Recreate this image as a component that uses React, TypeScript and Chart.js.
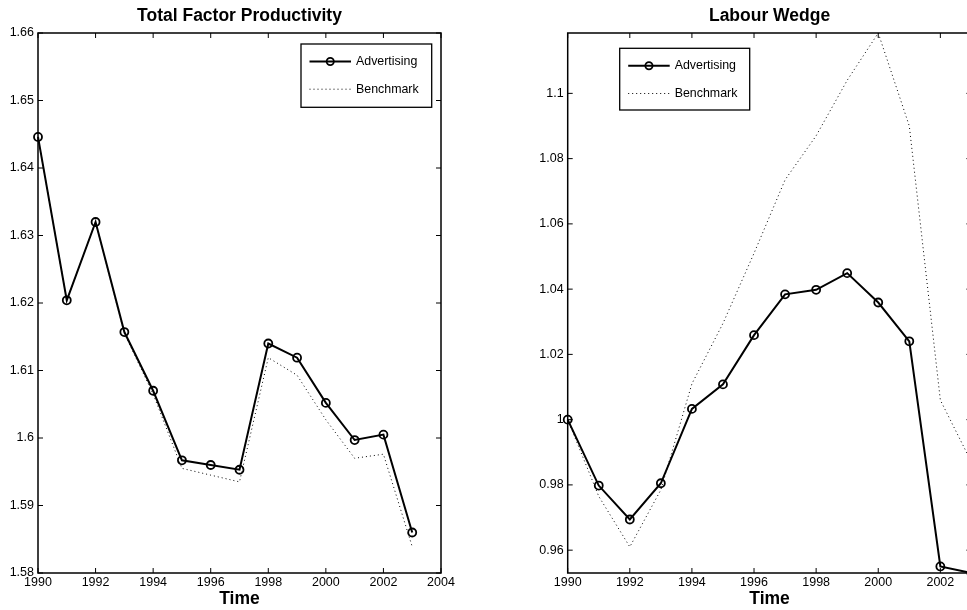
import React, { useEffect, useRef } from 'react';
import { Chart, registerables } from 'chart.js';

Chart.register(...registerables);

// ---------- data ----------
const years = [1990, 1991, 1992, 1993, 1994, 1995, 1996, 1997, 1998, 1999, 2000, 2001, 2002, 2003];

const tfpAdvertising = [1.6446, 1.6204, 1.632, 1.6157, 1.607, 1.5967, 1.596, 1.5953, 1.614, 1.6119, 1.6052, 1.5997, 1.6005, 1.586];
const tfpBenchmark = [1.6446, 1.6204, 1.632, 1.6155, 1.6065, 1.5955, 1.5945, 1.5935, 1.6119, 1.6093, 1.6027, 1.597, 1.5976, 1.5839];

const labourAdvertising = [1.0, 0.9798, 0.9694, 0.9805, 1.0033, 1.0108, 1.0259, 1.0384, 1.0398, 1.0449, 1.0359, 1.024, 0.955, 0.953];
const labourBenchmark = [1.0, 0.9765, 0.961, 0.9785, 1.011, 1.0295, 1.051, 1.0735, 1.087, 1.104, 1.1185, 1.09, 1.006, 0.987];

const tfpXTicks = [1990, 1992, 1994, 1996, 1998, 2000, 2002, 2004];
const tfpXLabels = ['1990', '1992', '1994', '1996', '1998', '2000', '2002', '2004'];
const tfpYTicks = [1.58, 1.59, 1.6, 1.61, 1.62, 1.63, 1.64, 1.65, 1.66];
const tfpYLabels = ['1.58', '1.59', '1.6', '1.61', '1.62', '1.63', '1.64', '1.65', '1.66'];

const labourXTicks = [1990, 1992, 1994, 1996, 1998, 2000, 2002];
const labourXLabels = ['1990', '1992', '1994', '1996', '1998', '2000', '2002'];
const labourYTicks = [0.96, 0.98, 1.0, 1.02, 1.04, 1.06, 1.08, 1.1];
const labourYLabels = ['0.96', '0.98', '1', '1.02', '1.04', '1.06', '1.08', '1.1'];

const seriesNames = ['Advertising', 'Benchmark'];

// ---------- styling ----------
const FONT = "'Liberation Sans', Arial, Helvetica, sans-serif";
Chart.defaults.font.family = FONT;
Chart.defaults.color = '#000';

type Spec = {
  title: string;
  adv: number[];
  bench: number[];
  xMin: number;
  xMax: number;
  yMin: number;
  yMax: number;
  xTicks: number[];
  xLabels: string[];
  yTicks: number[];
  yLabels: string[];
  yWidth: number;
  padRight: number;
  legendPos: (ca: { left: number; right: number; top: number; bottom: number }) => { x: number; y: number; w: number; h: number };
};

function makePlugin(spec: Spec) {
  return {
    id: 'matlabFrame',
    afterDatasetsDraw(chart: any) {
      const { ctx, chartArea } = chart;
      const { left, right, top, bottom } = chartArea;
      const xs = chart.scales.x;
      const ys = chart.scales.y;
      ctx.save();
      ctx.strokeStyle = '#000';
      ctx.lineWidth = 1;
      ctx.setLineDash([]);
      const seg = (x1: number, y1: number, x2: number, y2: number) => {
        ctx.beginPath();
        ctx.moveTo(x1, y1);
        ctx.lineTo(x2, y2);
        ctx.stroke();
      };
      spec.xTicks.forEach((v) => {
        const px = xs.getPixelForValue(v);
        seg(px, bottom, px, bottom - 5);
        seg(px, top, px, top + 5);
      });
      spec.yTicks.forEach((v) => {
        const py = ys.getPixelForValue(v);
        seg(left, py, left + 5, py);
        seg(right, py, right - 5, py);
      });
      ctx.lineWidth = 1.5;
      ctx.strokeRect(left, top, right - left, bottom - top);
      ctx.restore();
    },
    afterDraw(chart: any) {
      const { ctx, chartArea } = chart;
      const box = spec.legendPos(chartArea);
      ctx.save();
      ctx.fillStyle = '#fff';
      ctx.fillRect(box.x, box.y, box.w, box.h);
      ctx.strokeStyle = '#000';
      ctx.lineWidth = 1.3;
      ctx.strokeRect(box.x, box.y, box.w, box.h);

      const x1 = box.x + 8.5;
      const x2 = box.x + 50;
      const r1 = box.y + 17.5;
      const r2 = box.y + 45.2;
      // Advertising
      ctx.lineWidth = 2;
      ctx.setLineDash([]);
      ctx.beginPath();
      ctx.moveTo(x1, r1);
      ctx.lineTo(x2, r1);
      ctx.stroke();
      ctx.lineWidth = 1.8;
      ctx.beginPath();
      ctx.arc((x1 + x2) / 2, r1, 3.6, 0, Math.PI * 2);
      ctx.stroke();
      // Benchmark
      ctx.lineWidth = 1;
      ctx.setLineDash([1, 3]);
      ctx.beginPath();
      ctx.moveTo(x1, r2);
      ctx.lineTo(x2, r2);
      ctx.stroke();
      ctx.setLineDash([]);

      ctx.fillStyle = '#000';
      ctx.font = `12.4px ${FONT}`;
      ctx.textBaseline = 'middle';
      ctx.textAlign = 'left';
      ctx.fillText(seriesNames[0], box.x + 55, r1);
      ctx.fillText(seriesNames[1], box.x + 55, r2);
      ctx.restore();
    },
  };
}

function buildChart(canvas: HTMLCanvasElement, spec: Spec) {
  return new Chart(canvas, {
    type: 'line',
    data: {
      datasets: [
        {
          label: seriesNames[0],
          data: years.map((x, i) => ({ x, y: spec.adv[i] })),
          borderColor: '#000',
          borderWidth: 2,
          pointRadius: 4,
          pointHoverRadius: 4,
          pointBorderWidth: 1.8,
          pointBorderColor: '#000',
          pointBackgroundColor: 'rgba(0,0,0,0)',
          tension: 0,
          fill: false,
          clip: false,
        } as any,
        {
          label: seriesNames[1],
          data: years.map((x, i) => ({ x, y: spec.bench[i] })),
          borderColor: '#000',
          borderWidth: 1,
          borderDash: [1, 3],
          pointRadius: 0,
          pointHoverRadius: 0,
          tension: 0,
          fill: false,
          clip: false,
        } as any,
      ],
    },
    options: {
      responsive: false,
      animation: false,
      devicePixelRatio: 1,
      events: [],
      layout: { padding: { left: 0, right: spec.padRight, top: 0, bottom: 0 } },
      plugins: {
        legend: { display: false },
        tooltip: { enabled: false },
        title: {
          display: true,
          text: spec.title,
          fullSize: false,
          color: '#000',
          font: { family: FONT, size: 17.5, weight: 'bold' },
          padding: { top: 6, bottom: 6 },
        },
      },
      scales: {
        x: {
          type: 'linear',
          min: spec.xMin,
          max: spec.xMax,
          afterBuildTicks: (s: any) => {
            s.ticks = spec.xTicks.map((v) => ({ value: v }));
          },
          afterFit: (s: any) => {
            s.height = 37;
          },
          ticks: {
            callback: (_v: any, i: number) => spec.xLabels[i],
            font: { family: FONT, size: 12.5 },
            color: '#000',
            padding: 2,
            autoSkip: false,
            maxRotation: 0,
            minRotation: 0,
          },
          grid: { display: false, drawTicks: false },
          border: { display: false },
          title: {
            display: true,
            text: 'Time',
            color: '#000',
            font: { family: FONT, size: 17.5, weight: 'bold' },
            padding: { top: 0, bottom: 0 },
          },
        },
        y: {
          type: 'linear',
          min: spec.yMin,
          max: spec.yMax,
          afterBuildTicks: (s: any) => {
            s.ticks = spec.yTicks.map((v) => ({ value: v }));
          },
          afterFit: (s: any) => {
            s.width = spec.yWidth;
          },
          ticks: {
            callback: (_v: any, i: number) => spec.yLabels[i],
            font: { family: FONT, size: 12.5 },
            color: '#000',
            padding: 4,
            autoSkip: false,
          },
          grid: { display: false, drawTicks: false },
          border: { display: false },
        },
      },
    } as any,
    plugins: [makePlugin(spec)],
  });
}

const tfpSpec: Spec = {
  title: 'Total Factor Productivity',
  adv: tfpAdvertising,
  bench: tfpBenchmark,
  xMin: 1990,
  xMax: 2004,
  yMin: 1.58,
  yMax: 1.66,
  xTicks: tfpXTicks,
  xLabels: tfpXLabels,
  yTicks: tfpYTicks,
  yLabels: tfpYLabels,
  yWidth: 38,
  padRight: 39,
  legendPos: (ca) => ({ x: ca.right - 140, y: ca.top + 11, w: 130.7, h: 63.3 }),
};

const labourSpec: Spec = {
  title: 'Labour Wedge',
  adv: labourAdvertising,
  bench: labourBenchmark,
  xMin: 1990,
  xMax: 2003,
  yMin: 0.953,
  yMax: 1.1185,
  xTicks: labourXTicks,
  xLabels: labourXLabels,
  yTicks: labourYTicks,
  yLabels: labourYLabels,
  yWidth: 80.7,
  padRight: 35.6,
  legendPos: (ca) => ({ x: ca.left + 52, y: ca.top + 15.3, w: 130, h: 61.7 }),
};

export default function App() {
  const leftRef = useRef<HTMLCanvasElement | null>(null);
  const rightRef = useRef<HTMLCanvasElement | null>(null);

  useEffect(() => {
    const c1 = leftRef.current ? buildChart(leftRef.current, tfpSpec) : null;
    const c2 = rightRef.current ? buildChart(rightRef.current, labourSpec) : null;
    return () => {
      c1 && c1.destroy();
      c2 && c2.destroy();
    };
  }, []);

  return (
    <div
      style={{
        position: 'fixed',
        left: 0,
        top: 0,
        width: 967,
        height: 610,
        overflow: 'hidden',
        background: '#fff',
      }}
    >
      <div style={{ position: 'absolute', left: 0, top: 0, width: 480, height: 610 }}>
        <canvas ref={leftRef} width={480} height={610} style={{ display: 'block' }} />
      </div>
      <div style={{ position: 'absolute', left: 487, top: 0, width: 520, height: 610 }}>
        <canvas ref={rightRef} width={520} height={610} style={{ display: 'block' }} />
      </div>
    </div>
  );
}
